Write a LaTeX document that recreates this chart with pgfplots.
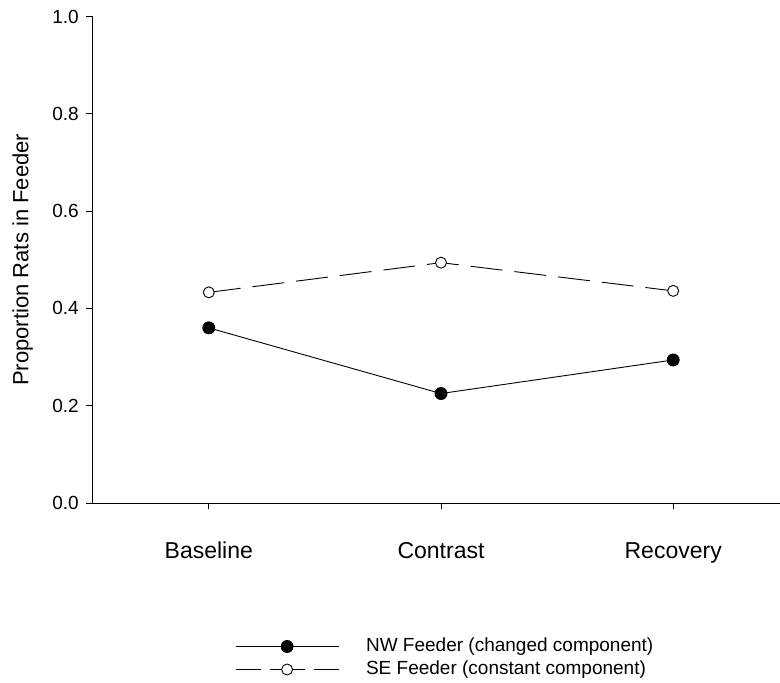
\documentclass[border=0pt]{standalone}
\usepackage{pgfplots}
\pgfplotsset{compat=1.18}
\usepackage{fontspec}
\setmainfont{Liberation Sans}
\pgfplotsset{selegend/.style={legend image code/.code={\draw[mark repeat=2,mark phase=2,##1, dash pattern=on 25pt off 9pt on 35pt off 9pt on 25pt off 0pt] plot coordinates {(0pt,0pt) (51.5pt,0pt) (103pt,0pt)};}}}
\begin{document}
\begin{tikzpicture}
\begin{axis}[
  at={(92.7pt,180pt)}, anchor=south west,
  scale only axis, width=687.3pt, height=486.5pt,
  xmin=0.5, xmax=3.46, ymin=0, ymax=1,
  axis x line*=bottom, axis y line*=left,
  axis line style={line width=0.9pt, -},
  tick align=outside, major tick length=6.5pt,
  tick style={line width=0.9pt, black},
  xtick={1,2,3}, xticklabels={Baseline,Contrast,Recovery},
  ytick={0,0.2,0.4,0.6,0.8,1.0},
  /pgf/number format/assume math mode=true,
  yticklabel style={/pgf/number format/fixed, /pgf/number format/fixed zerofill, /pgf/number format/precision=1},
  y tick label style={font=\fontsize{19}{19}\selectfont, xshift=-4pt},
  x tick label style={font=\fontsize{23}{23}\selectfont, anchor=north, yshift=-29pt, text height=16.8pt, text depth=5pt},
  ylabel={Proportion Rats in Feeder},
  ylabel style={font=\fontsize{22}{22}\selectfont, at={(axis description cs:-0.0937,0.5)}, anchor=base},
  legend style={at={(axis description cs:0.207,-0.3186)}, anchor=west, draw=none, fill=none,
    font=\fontsize{19}{19}\selectfont, inner sep=0pt, row sep=5pt,
    nodes={inner sep=0pt, text depth=4pt, text height=14pt},
    /tikz/every odd column/.append style={column sep=27pt}},
  legend cell align=left,
  legend image code/.code={\draw[mark repeat=2,mark phase=2,#1] plot coordinates {(0pt,0pt) (51.5pt,0pt) (103pt,0pt)};},
]
\addplot[black, line width=0.9pt, mark=*, mark size=6pt, mark options={solid, fill=black}]
  coordinates {(1,0.360) (2,0.225) (3,0.294)};
\addlegendentry{NW Feeder (changed component)}
\addplot[black, line width=0.9pt, dash pattern=on 32pt off 12pt, mark=*, mark size=5.5pt, mark options={solid, fill=white}, selegend]
  coordinates {(1,0.433) (2,0.494) (3,0.436)};
\addlegendentry{SE Feeder (constant component)}
\end{axis}
\pgfresetboundingbox
\useasboundingbox (0,0) rectangle (780pt,683pt);
\end{tikzpicture}
\end{document}
